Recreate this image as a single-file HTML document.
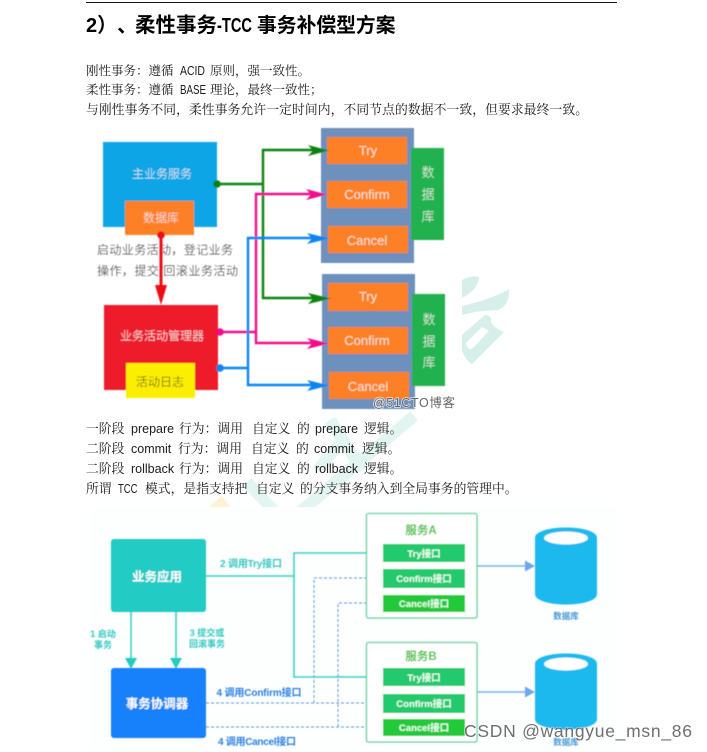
<!DOCTYPE html>
<html><head><meta charset="utf-8"><style>
html,body{margin:0;padding:0;background:#fff;width:707px;height:752px;overflow:hidden}
svg{display:block;font-family:"Liberation Sans","Noto Sans CJK SC",sans-serif;text-spacing-trim:space-all}
.serif{font-family:"Liberation Sans","Noto Serif CJK SC",serif}
.l{font-size:12.5px}
</style></head><body>
<svg width="707" height="752" viewBox="0 0 707 752">
<defs>
<filter id="b" x="-5%" y="-5%" width="110%" height="110%"><feGaussianBlur stdDeviation="0.45"/></filter>
<filter id="t" x="-5%" y="-20%" width="110%" height="140%"><feGaussianBlur stdDeviation="0.22"/></filter>
</defs>
<rect width="707" height="752" fill="#fff"/>
<!-- faint watermark -->
<g fill="#d6efea">
<path d="M462 280Q472 275 479 277Q478 290 462 298Z"/>
<path d="M462 306Q490 300 509 289Q510 305 498 310Q480 310 462 315Z"/>
<path fill-rule="evenodd" d="M462 335L485 315Q492 315 491 322Q494 328 504 332L472 364Q465 360 462 350ZM466 343L482 327L489 331L472 349Q467 350 466 343Z"/>
</g>
<g fill="none" stroke="#e3f5f1" stroke-width="12">
<path d="M414 416L300 512"/>
<path d="M247 482L275 512"/>
<path d="M345 437L318 470M330 420L362 470"/>
</g>
<path d="M205 510L222 496L232 510Z" fill="#fdf3d2"/>
<rect x="90" y="507" width="527" height="243" fill="#fdfefe"/>

<rect x="86" y="2" width="531" height="1" fill="#111"/>
<g font-weight="bold" fill="#000" filter="url(#t)">
<text y="32" font-size="20.500"><tspan x="86" font-size="20">2）、</tspan><tspan x="135">柔性事务</tspan></text>
<text x="217" y="32" font-size="20" textLength="35" lengthAdjust="spacingAndGlyphs">-TCC</text>
<text x="257" y="32" font-size="19.800">事务补偿型方案</text>
</g>
<g class="serif" filter="url(#t)" fill="#1a1a1a" font-size="12.800">
<text y="75" font-size="12.500"><tspan x="86">刚性事务：遵循</tspan><tspan x="210">原则，强一致性。</tspan></text>
<text x="180" y="75" font-size="12.500" textLength="25" lengthAdjust="spacingAndGlyphs">ACID</text>
<text y="94" font-size="12.500"><tspan x="86">柔性事务：遵循</tspan><tspan x="210">理论，最终一致性；</tspan></text>
<text x="180" y="94" font-size="12.500" textLength="26" lengthAdjust="spacingAndGlyphs">BASE</text>
<text x="86" y="114" textLength="502">与刚性事务不同，柔性事务允许一定时间内，不同节点的数据不一致，但要求最终一致。</text>
<text y="433"><tspan x="86">一阶段</tspan><tspan x="131" class="l">prepare</tspan><tspan x="179">行为：调用</tspan><tspan x="252">自定义</tspan><tspan x="297">的</tspan><tspan x="315" class="l">prepare</tspan><tspan x="364">逻辑。</tspan></text>
<text y="453"><tspan x="86">二阶段</tspan><tspan x="131" class="l">commit</tspan><tspan x="178">行为：调用</tspan><tspan x="251">自定义</tspan><tspan x="296">的</tspan><tspan x="314" class="l">commit</tspan><tspan x="362">逻辑。</tspan></text>
<text y="473"><tspan x="86">二阶段</tspan><tspan x="131" class="l">rollback</tspan><tspan x="179">行为：调用</tspan><tspan x="252">自定义</tspan><tspan x="297">的</tspan><tspan x="315" class="l">rollback</tspan><tspan x="364">逻辑。</tspan></text>
<text y="493"><tspan x="86">所谓</tspan><tspan x="145">模式，是指支持把</tspan><tspan x="256">自定义</tspan><tspan x="300">的分支事务纳入到全局事务的管理中。</tspan></text>
<text x="118" y="493" font-size="12.500" textLength="19.500" lengthAdjust="spacingAndGlyphs">TCC</text>
</g>

<!-- diagram 1 -->
<g filter="url(#b)">
<rect x="103" y="142" width="114" height="85" fill="#0ba5e6"/>
<rect x="125" y="201" width="69" height="34" fill="#fd7f26"/>
<rect x="104" y="305" width="114" height="85" fill="#ee1c2c"/>
<rect x="126" y="363" width="69" height="35" fill="#fcee05"/>
<text x="97" y="254" font-size="12" fill="#333" font-weight="300" textLength="136">启动业务活动，登记业务</text>
<text x="97" y="275" font-size="12" fill="#333" font-weight="300" textLength="141">操作，提交/回滚业务活动</text>
<!-- containers -->
<rect x="321" y="128" width="93" height="135" fill="#6e90bd"/>
<rect x="322" y="274" width="93" height="135" fill="#6e90bd"/>
<rect x="411" y="148" width="33" height="92" fill="#23b14f"/>
<rect x="412" y="294" width="33" height="92" fill="#23b14f"/>
<g fill="#fd7f26">
<rect x="327" y="137" width="80" height="27"/><rect x="327" y="181" width="80" height="27"/><rect x="328" y="226" width="80" height="27"/>
<rect x="328" y="283" width="80" height="28"/><rect x="328" y="327" width="80" height="27"/><rect x="329" y="372" width="80" height="27"/>
</g>
<!-- lines -->
<g fill="none" stroke-width="2.400">
<path d="M217 184H263M318 150H263V298H318" stroke="#0a830f"/>
<path d="M218 332H256M316 194H256V343H316" stroke="#f2108c"/>
<path d="M220 368H248M317 238H248V385H317" stroke="#0c84f4"/>
<path d="M161 235V290" stroke="#ee0f14" stroke-width="3"/>
</g>
<circle cx="217" cy="184" r="3.800" fill="#0a830f"/>
<circle cx="220" cy="332" r="3.800" fill="#f2108c"/>
<circle cx="220" cy="368" r="3.800" fill="#0c84f4"/>
<circle cx="161" cy="235" r="3.800" fill="#ee0f14"/>
<path d="M151 285H167L161 305L155 285Z" fill="#ee0f14"/>
<path d="M308 145L329 150.500L308 156L313 150.500Z" fill="#0a830f"/>
<path d="M308 293L331 298.500L308 304L313 298.500Z" fill="#0a830f"/>
<path d="M306 189L327 194.500L306 200L311 194.500Z" fill="#f2108c"/>
<path d="M307 338L329 343.500L307 349L312 343.500Z" fill="#f2108c"/>
<path d="M307 233L329 238.500L307 244L312 238.500Z" fill="#0c84f4"/>
<path d="M307 380L329 385.500L307 391L312 385.500Z" fill="#0c84f4"/>
<g font-size="12" text-anchor="middle" fill="#f3f3f3" font-weight="300">
<text x="162" y="178">主业务服务</text>
<text x="161" y="222">数据库</text>
<text x="162" y="340">业务活动管理器</text>
<text x="160" y="386" fill="#222">活动日志</text>
<g font-size="13" fill="#f6e6d8">
<text x="368" y="155">Try</text><text x="367" y="199">Confirm</text><text x="367" y="245">Cancel</text>
<text x="368" y="301">Try</text><text x="367" y="345">Confirm</text><text x="368" y="391">Cancel</text>
</g>
<g font-size="13" fill="#e9f5ec">
<text x="428" y="177">数</text><text x="428" y="199">据</text><text x="428" y="221">库</text>
<text x="429" y="324">数</text><text x="429" y="346">据</text><text x="429" y="367">库</text>
</g>
</g>
</g>
<text x="373" y="407" font-size="12.500" fill="#666" stroke="#fff" stroke-width="1.500" paint-order="stroke" stroke-opacity="0.75" textLength="82">@51CTO博客</text>

<!-- diagram 2 -->
<g filter="url(#b)">
<rect x="111" y="539" width="95" height="73" rx="3" fill="#22cbc4"/>
<rect x="111" y="668" width="95" height="70" rx="3" fill="#1581fa"/>
<g fill="none" stroke="#3cd0c6" stroke-width="1.600">
<path d="M131 612V660M176 612V660"/>
<path d="M206 576H294M373 553H294V677H373"/>
</g>
<path d="M125 658H137L131 669Z M170 658H182L176 669Z" fill="#22cbc4"/>
<path d="M372 548.500L383 553L372 557.500Z M372 672.500L383 677L372 681.500Z" fill="#22c0d0"/>
<g fill="none" stroke="#5d9ed6" stroke-width="1" stroke-dasharray="3 2">
<path d="M206 703H373M314 703V578H373"/>
<path d="M206 727H373M338 727V603H373"/>
</g>
<path d="M374 574.500L383 579L374 583.500Z M374 598.500L383 603L374 607.500Z M374 698.500L383 703L374 707.500Z M374 722.500L383 727L374 731.500Z" fill="#1581fa"/>
<rect x="366.500" y="513.500" width="110.500" height="104.500" rx="2" fill="#fff" stroke="#5ccf9c" stroke-width="1.300"/>
<rect x="366.500" y="642.500" width="110.500" height="99.500" rx="2" fill="#fff" stroke="#5ccf9c" stroke-width="1.300"/>
<rect x="383" y="544" width="82" height="18" fill="#22c96d"/>
<rect x="383" y="569" width="82" height="19" fill="#22c96d"/>
<rect x="383" y="595" width="82" height="17" fill="#22c93a"/>
<rect x="383" y="668" width="82" height="18" fill="#22c96d"/>
<rect x="383" y="694" width="82" height="19" fill="#22c96d"/>
<rect x="383" y="719" width="82" height="17" fill="#22c93a"/>
<path d="M477 566H526M477 692H526" stroke="#7db0ea" stroke-width="1.400"/>
<path d="M525 560.500L535 566L525 571.500Z M525 686.500L535 692L525 697.500Z" fill="#6ea8ec"/>
<path d="M535 538C535 524 597 524 597 538V594C597 608 535 608 535 594Z" fill="#1fb9ef"/>
<ellipse cx="566" cy="538" rx="22" ry="6.500" fill="#fff"/>
<path d="M535 664C535 650 597 650 597 664V719C597 733 535 733 535 719Z" fill="#1fb9ef"/>
<ellipse cx="566" cy="664" rx="22" ry="6.500" fill="#fff"/>
<g font-weight="bold" text-anchor="middle">
<text x="157" y="581" font-size="12.500" fill="#fff">业务应用</text>
<text x="157" y="708" font-size="12.500" fill="#fff">事务协调器</text>
<g font-size="9" fill="#35c8c0">
<text x="251" y="567" font-size="10" textLength="62" text-anchor="middle">2 调用Try接口</text>
<text x="103" y="637">1 启动</text><text x="103" y="648">事务</text>
<text x="207" y="636">3 提交或</text><text x="207" y="647">回滚事务</text>
</g>
<g font-size="10" fill="#2a80e0">
<text x="259" y="696" textLength="85">4 调用Confirm接口</text>
<text x="257" y="745" textLength="78">4 调用Cancel接口</text>
</g>
<g font-size="11.500" fill="#46c040">
<text x="421" y="534">服务A</text><text x="421" y="660">服务B</text>
</g>
<g font-size="9.500" fill="#f2fff6">
<text x="424" y="557">Try接口</text><text x="424" y="582">Confirm接口</text><text x="424" y="607">Cancel接口</text>
<text x="424" y="681">Try接口</text><text x="424" y="707">Confirm接口</text><text x="424" y="731">Cancel接口</text>
</g>
<g font-size="8.500" fill="#4a9ad8">
<text x="566" y="619">数据库</text><text x="566" y="745">数据库</text>
</g>
</g>
</g>
<text x="464" y="737" font-size="17.500" fill="#555" fill-opacity="0.85" stroke="#fff" stroke-width="1.200" stroke-opacity="0.6" paint-order="stroke" textLength="228">CSDN @wangyue_msn_86</text>
</svg>
</body></html>
